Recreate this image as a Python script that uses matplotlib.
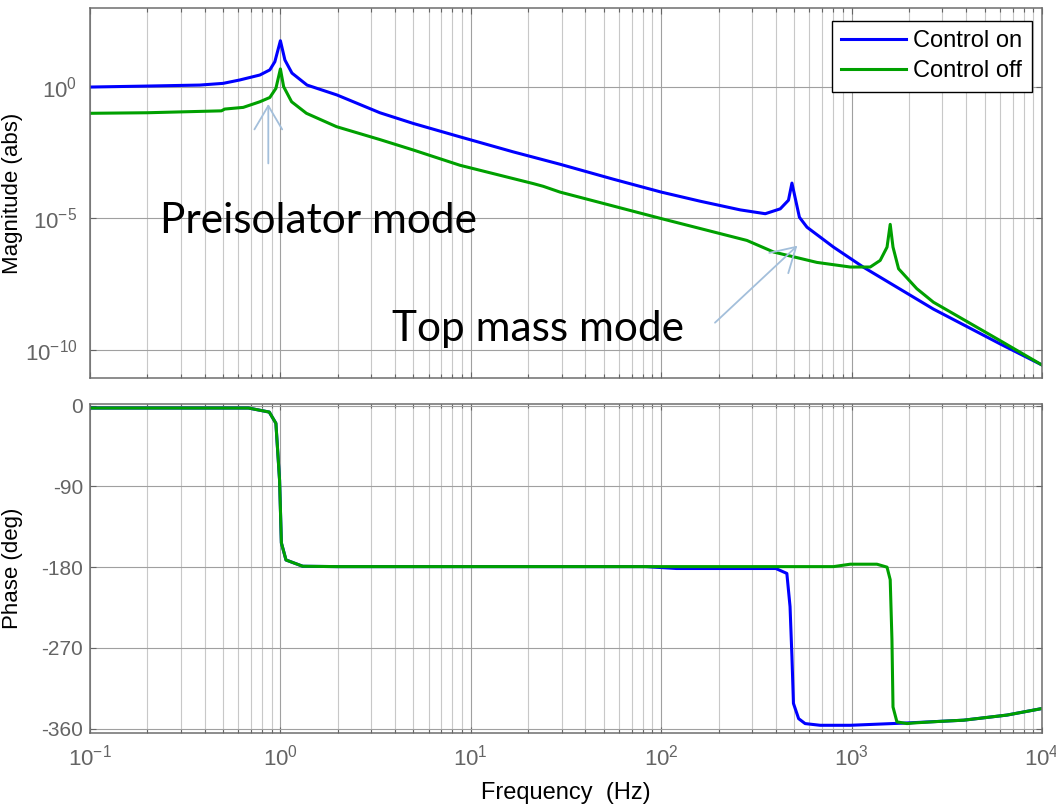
import numpy as np
import matplotlib
matplotlib.use('Agg')
import matplotlib.pyplot as plt
from matplotlib.ticker import LogLocator, FixedLocator, LogFormatterSciNotation, NullFormatter, NullLocator

plt.rcParams['font.family'] = ['Liberation Sans', 'DejaVu Sans']
plt.rcParams['mathtext.default'] = 'regular'
plt.rcParams['axes.unicode_minus'] = False

# magnitude, control on (blue)
f_mag_on = [0.1, 0.2, 0.378, 0.5, 0.61, 0.78, 0.88, 0.935, 1.0, 1.056, 1.15, 1.38, 1.98,
            3.33, 4.99, 8.77, 16.7, 29.4, 56, 100, 160, 260, 352, 422, 466, 486, 532,
            583, 804, 1150, 2690, 6030, 10000]
mag_on = [1.0, 1.09, 1.19, 1.38, 1.85, 2.87, 4.5, 9.2, 58, 10.7, 3.4, 1.19, 0.50,
          0.105, 0.041, 0.0127, 3.4e-3, 1.15e-3, 3.1e-4, 1e-4, 4.5e-5, 2.1e-5, 1.5e-5, 2.3e-5, 4.9e-5, 2.2e-4, 1.1e-5,
          4.6e-6, 8e-7, 1.4e-7, 3.5e-9, 1.65e-10, 2.6e-11]

# magnitude, control off (green)
f_mag_off = [0.1, 0.2, 0.49, 0.51, 0.638, 0.78, 0.88, 0.947, 1.0, 1.04, 1.145, 1.37, 1.97,
             3.33, 4.99, 8.77, 21.3, 24, 29.4, 100, 282, 390, 657, 984, 1253, 1413, 1535,
             1595, 1650, 1765, 2200, 2690, 6030, 10000]
mag_off = [0.1, 0.105, 0.124, 0.145, 0.168, 0.275, 0.40, 0.89, 4.9, 1.03, 0.275, 0.1, 0.031,
           0.01, 4e-3, 1.05e-3, 2.1e-4, 1.66e-4, 1e-4, 9.8e-6, 1.44e-6, 5.2e-7, 2.1e-7, 1.4e-7, 1.4e-7, 2.5e-7, 8e-7,
           5.9e-6, 8e-7, 1.2e-7, 2.1e-8, 6.4e-9, 2.2e-10, 2.6e-11]

# phase, control on
f_ph_on = [0.1, 0.68, 0.874, 0.947, 0.99, 1.012, 1.07, 1.31, 2.0, 83, 120, 400, 457, 475,
           486, 495, 527, 570, 684, 984, 1955, 2925, 3880, 6550, 10000]
ph_on = [-2.5, -2.5, -7, -19.5, -83, -153, -172, -179, -179.4, -179.4, -181.5, -181.5, -187, -224,
         -280, -332, -349, -354.5, -356.4, -356.4, -353.8, -352, -350.7, -345, -337.7]

# phase, control off
f_ph_off = [0.1, 0.68, 0.874, 0.947, 0.99, 1.012, 1.07, 1.31, 2.0, 804, 984, 1358, 1535, 1595,
            1629, 1650, 1730, 1955, 2115, 2925, 3880, 6550, 10000]
ph_off = [-2.5, -2.5, -7, -19.5, -83, -153, -172, -179, -179.4, -179.4, -176.7, -176.7, -180, -194,
          -261, -336, -352.6, -354.5, -353.8, -352, -350.7, -345, -337.7]

labels = ['Control on', 'Control off']
c_on = '#0000ff'
c_off = '#00a000'
tick_col = '#646464'
arrow_col = '#a3bfdb'

fig = plt.figure(figsize=(10.56, 8.08), dpi=100)
ax1 = fig.add_axes([90/1056, 1-378/808, 952/1056, 370/808])
ax2 = fig.add_axes([90/1056, 1-733/808, 952/1056, 329/808])

ax1.plot(f_mag_on, mag_on, color=c_on, lw=2.2, label=labels[0])
ax1.plot(f_mag_off, mag_off, color=c_off, lw=2.2, label=labels[1])
ax2.plot(f_ph_on, ph_on, color=c_on, lw=2.2)
ax2.plot(f_ph_off, ph_off, color=c_off, lw=2.2)

for ax in (ax1, ax2):
    ax.set_xscale('log')
    ax.set_xlim(0.1, 1e4)
    ax.xaxis.set_major_locator(LogLocator(base=10, numticks=10))
    ax.xaxis.set_minor_locator(LogLocator(base=10, subs=np.arange(2, 10), numticks=20))
    ax.xaxis.set_minor_formatter(NullFormatter())
    ax.grid(True, which='major', color='#a0a0a0', lw=0.8)
    ax.xaxis.grid(True, which='minor', color='#c8c8c8', lw=0.8)
    ax.tick_params(which='both', direction='in', top=True, right=True, colors=tick_col,
                   labelsize=15, labelcolor=tick_col, width=0.8)
    ax.tick_params(which='major', length=4)
    ax.tick_params(which='minor', length=3)
    for s in ax.spines.values():
        s.set_color('#6e6e6e')
        s.set_linewidth(1.1)
    ax.set_axisbelow(True)

ax1.set_yscale('log')
ax1.set_ylim(10**-11.08, 10**3.01)
ax1.yaxis.set_major_locator(FixedLocator([1e-10, 1e-5, 1e0]))
ax1.yaxis.set_major_formatter(LogFormatterSciNotation())
ax1.yaxis.set_minor_locator(NullLocator())
ax1.tick_params(axis='x', labelbottom=False)
ax1.tick_params(axis='y', pad=9, labelsize=16)
ax1.set_ylabel('Magnitude (abs)', fontsize=16)
ax1.yaxis.set_label_coords(-0.0704, 0.5)

ax2.set_ylim(-365, 2)
ax2.set_yticks([0, -90, -180, -270, -360])
ax2.tick_params(axis='y', pad=5)
ax2.tick_params(axis='x', pad=8, labelsize=16)
ax2.set_ylabel('Phase (deg)', fontsize=16)
ax2.yaxis.set_label_coords(-0.0704, 0.5)
ax2.set_xlabel('Frequency  (Hz)', fontsize=17)
ax2.xaxis.set_label_coords(0.5, -0.149)

leg = ax1.legend(loc='upper right', bbox_to_anchor=(0.9895, 0.9657), borderaxespad=0,
                 fancybox=False, edgecolor='black', framealpha=1, fontsize=17,
                 handlelength=2.75, handletextpad=0.3, labelspacing=0.35, borderpad=0.4)
leg.get_frame().set_linewidth(1.0)

ax1.text(0.0735, 0.392, 'Preisolator mode', transform=ax1.transAxes, fontsize=30.5,
         family='Lato', va='baseline', ha='left', color='black')
ax1.text(0.317, 0.10, 'Top mass mode', transform=ax1.transAxes, fontsize=30.5,
         family='Lato', va='baseline', ha='left', color='black')

astyle = dict(arrowstyle='->,head_length=0.85,head_width=0.5', color=arrow_col, lw=1.3,
              mutation_scale=20, shrinkA=0, shrinkB=0)
ax1.annotate('', xy=(0.1873, 0.7405), xytext=(0.1873, 0.580), xycoords='axes fraction',
             textcoords='axes fraction', arrowprops=astyle)
ax1.annotate('', xy=(0.743, 0.3576), xytext=(0.6565, 0.1495), xycoords='axes fraction',
             textcoords='axes fraction', arrowprops=astyle)

fig.savefig('out.png', dpi=100)
